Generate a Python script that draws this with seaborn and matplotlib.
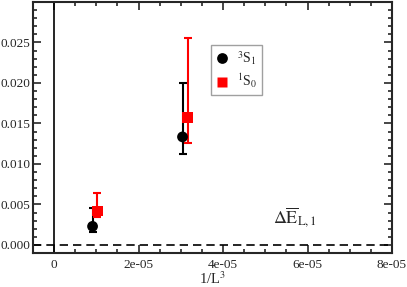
import numpy as np
import matplotlib
matplotlib.use("Agg")
import matplotlib.pyplot as plt
import seaborn as sns
import pandas as pd
from matplotlib.ticker import MultipleLocator

# data
x_3s1 = [9.1e-06, 3.04e-05]
y_3s1 = [0.00229, 0.01334]
lo_3s1 = [0.00155, 0.01122]
hi_3s1 = [0.00458, 0.02000]

x_1s0 = [1.02e-05, 3.16e-05]
y_1s0 = [0.00418, 0.01576]
lo_1s0 = [0.00344, 0.01253]
hi_1s0 = [0.00646, 0.02550]

xticks = [0, 2e-05, 4e-05, 6e-05, 8e-05]
xtick_labels = ["0", "2e-05", "4e-05", "6e-05", "8e-05"]

sns.set_style("ticks")
plt.rcParams['font.family'] = ['Liberation Serif', 'DejaVu Serif']
plt.rcParams['mathtext.fontset'] = 'stix'

fig = plt.figure(figsize=(4.07, 2.87), dpi=100)
ax = fig.add_axes([0.0811, 0.1185, 0.882, 0.8745])

df = pd.DataFrame({
    "x": x_3s1 + x_1s0,
    "y": y_3s1 + y_1s0,
    "state": ["$^3$S$_1$"] * 2 + ["$^1$S$_0$"] * 2,
})

# error bars
ax.errorbar(x_3s1, y_3s1,
            yerr=[np.array(y_3s1) - np.array(lo_3s1), np.array(hi_3s1) - np.array(y_3s1)],
            fmt="none", ecolor="black", elinewidth=1.5, capsize=3, capthick=1.5, zorder=2)
ax.errorbar(x_1s0, y_1s0,
            yerr=[np.array(y_1s0) - np.array(lo_1s0), np.array(hi_1s0) - np.array(y_1s0)],
            fmt="none", ecolor="red", elinewidth=1.5, capsize=3, capthick=1.5, zorder=2)

sns.scatterplot(data=df, x="x", y="y", hue="state", style="state",
                palette={"$^3$S$_1$": "black", "$^1$S$_0$": "red"},
                markers={"$^3$S$_1$": "o", "$^1$S$_0$": "s"},
                s=60, edgecolor="none", ax=ax, zorder=3)

ax.axvline(0, color="black", lw=1.2, zorder=1)
ax.axhline(0, color="black", lw=1.2, ls=(0, (5, 3)), zorder=1)

ax.set_xlim(-5e-06, 8e-05)
ax.set_ylim(-0.001, 0.03)
ax.set_xticks(xticks)
ax.set_xticklabels(xtick_labels)
ax.set_yticks([0, 0.005, 0.01, 0.015, 0.02, 0.025])
ax.set_yticklabels(["0.000", "0.005", "0.010", "0.015", "0.020", "0.025"])
ax.xaxis.set_minor_locator(MultipleLocator(5e-06))
ax.yaxis.set_minor_locator(MultipleLocator(0.001))
ax.tick_params(which="both", direction="in", top=True, right=True, labelsize=9.5, width=1.2)
ax.tick_params(which="major", length=6)
ax.tick_params(axis="y", which="major", pad=2)
ax.tick_params(axis="x", which="major", pad=4)
ax.tick_params(which="minor", length=3)
for s in ax.spines.values():
    s.set_linewidth(1.5)

ax.set_xlabel("1/L$^3$", fontsize=10.5, labelpad=0)
ax.set_ylabel("")

ax.text(0.668, 0.14, r"$\Delta\overline{\mathrm{E}}_{\mathrm{L,1}}$", transform=ax.transAxes,
        fontsize=13, ha="left", va="center")

leg = ax.legend(loc="upper left", bbox_to_anchor=(0.497, 0.83), frameon=True, fancybox=False,
                edgecolor="#888888", fontsize=10, handlelength=0.8, handletextpad=0.7,
                borderpad=0.35, labelspacing=0.35, borderaxespad=0, title=None)
leg.get_frame().set_linewidth(1.0)

fig.savefig("out.png", dpi=100)
